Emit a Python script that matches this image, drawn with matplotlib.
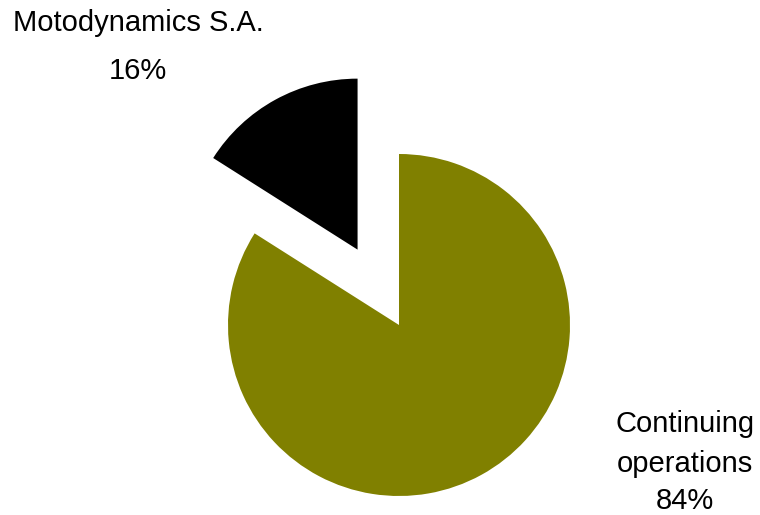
import matplotlib
matplotlib.use("Agg")
import matplotlib.pyplot as plt

labels = ["Continuing operations", "Motodynamics S.A."]
shares = [84, 16]
colors = ["#808000", "#000000"]

plt.rcParams['font.family'] = ['Liberation Sans', 'DejaVu Sans']

fig = plt.figure(figsize=(7.6, 5.15), dpi=100)
ax = fig.add_axes([0, 0, 1, 1])

# pie centre / radius in pixel units (y measured from bottom)
# explode is not scaled by radius, so give it in pixels too
ax.pie(shares, colors=colors, startangle=90, counterclock=False,
       explode=[0, 86], radius=171, center=(399, 190),
       wedgeprops=dict(linewidth=0))
ax.set_xlim(0, 760)
ax.set_ylim(0, 515)
ax.set_aspect('equal')
ax.axis('off')

# labels
fs = 21
ax.text(138, 515 - 23, "Motodynamics S.A.", ha='center', va='center', fontsize=fs)
ax.text(138, 515 - 71, "16%", ha='center', va='center', fontsize=fs)
ax.text(685, 515 - 424, "Continuing", ha='center', va='center', fontsize=fs)
ax.text(685, 515 - 464, "operations", ha='center', va='center', fontsize=fs)
ax.text(685, 515 - 501, "84%", ha='center', va='center', fontsize=fs)

fig.savefig("out.png", dpi=100)
